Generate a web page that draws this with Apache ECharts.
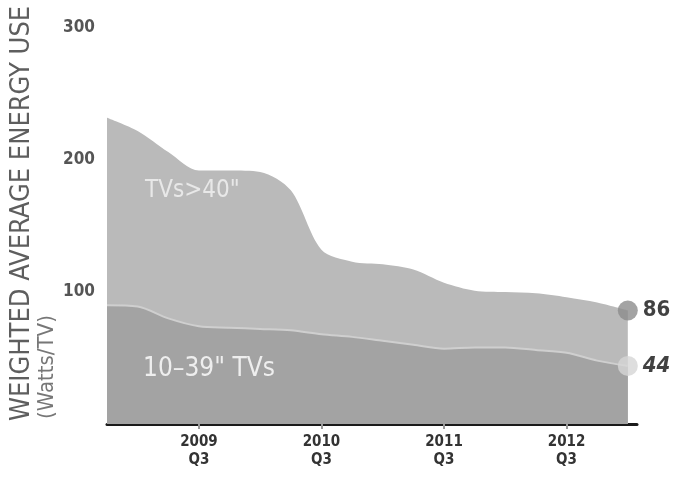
<!DOCTYPE html>
<html>
<head>
<meta charset="utf-8">
<script src="https://cdn.jsdelivr.net/npm/echarts@6/dist/echarts.min.js"></script>
<style>html,body{margin:0;padding:0;background:#fff}#c{width:675px;height:480px}</style>
</head>
<body>
<div id="c"></div>
<script>
// Quarters from 2008 Q4 (index 0) to 2013 Q1 (index 17)
const quarterIndex = [0,1,2,3,4,5,6,7,8,9,10,11,12,13,14,15,16,17];
const largeTVs = [232,222,206,192,192,191,177,132,123,121,117,107,101,100,99,96,92,86];
const smallTVs = [90,89,80,74,73,72,71,68,66,63,60,57,58,58,56,54,48,44];
const tickPositions = [3,7,11,15];
const tickLabels = ['2009\nQ3','2010\nQ3','2011\nQ3','2012\nQ3'];
const yTicks = [100,200,300];

const font = "'Liberation Sans Narrow','DejaVu Sans Condensed','Roboto Condensed',sans-serif";
const pair = arr => arr.map((v,i)=>[quarterIndex[i], v]);
const last = quarterIndex.length - 1;

const chart = echarts.init(document.getElementById('c'));
chart.setOption({
  animation:false,
  grid:{left:107,right:38,top:28,bottom:56},
  xAxis:{
    type:'value',min:0,max:17.3,
    splitLine:{show:false},
    axisLine:{show:true,lineStyle:{color:'#1a1a1a',width:3}},
    axisTick:{show:true,customValues:tickPositions,length:5,lineStyle:{color:'#999',width:2}},
    axisLabel:{customValues:tickPositions,margin:9,color:'#333',fontFamily:font,fontSize:15,fontWeight:'bold',lineHeight:18,
      formatter:v=>tickLabels[tickPositions.indexOf(v)] || ''}
  },
  yAxis:{
    type:'value',min:0,max:300,
    splitLine:{show:false},
    axisLine:{show:false},axisTick:{show:false},
    axisLabel:{customValues:yTicks,margin:12,color:'#555',fontFamily:font,fontSize:17,fontWeight:'bold'}
  },
  series:[
    {type:'line',data:pair(largeTVs),smooth:0.3,symbol:'none',
      lineStyle:{width:0},areaStyle:{color:'#bababa',opacity:1},z:1},
    {type:'line',data:pair(smallTVs),smooth:0.3,symbol:'none',
      lineStyle:{width:2,color:'#cfcfcf'},areaStyle:{color:'#a3a3a3',opacity:1},z:2},
    {type:'scatter',data:[[quarterIndex[last],largeTVs[last]]],symbolSize:20,
      itemStyle:{color:'#8c8c8c'},z:5,
      label:{show:true,position:'right',distance:5,formatter:p=>p.value[1],color:'#111',fontFamily:font,fontSize:22,fontWeight:'bold'}},
    {type:'scatter',data:[[quarterIndex[last],smallTVs[last]]],symbolSize:20,
      itemStyle:{color:'#d6d6d6'},z:5,
      label:{show:true,position:'right',distance:5,formatter:p=>p.value[1],color:'#111',fontFamily:font,fontSize:22,fontWeight:'bold',fontStyle:'italic'}}
  ],
  graphic:[
    {type:'text',x:22,y:421,rotation:Math.PI/2,
      style:{text:'WEIGHTED AVERAGE ENERGY USE',fill:'#5e5e5e',font:"27px "+font,textAlign:'left',textVerticalAlign:'middle'}},
    {type:'text',x:47,y:419,rotation:Math.PI/2,
      style:{text:'(Watts/TV)',fill:'#777',font:"22px "+font,textAlign:'left',textVerticalAlign:'middle'}},
    {type:'text',x:145,y:191,z:10,
      style:{text:'TVs>40"',fill:'#e8e8e8',font:"24px "+font,textAlign:'left',textVerticalAlign:'middle'}},
    {type:'text',x:143,y:369,z:10,
      style:{text:'10\u201339" TVs',fill:'#eeeeee',font:"26px "+font,textAlign:'left',textVerticalAlign:'middle'}}
  ]
});
</script>
</body>
</html>
